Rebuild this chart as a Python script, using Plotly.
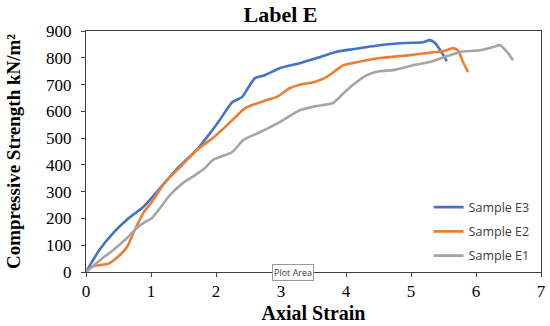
import plotly.graph_objects as go

# Sample E3 (blue)
e3_strain = [0, 0.2, 0.42, 0.65, 0.88, 1.14, 1.4, 1.7, 1.85, 2.05, 2.25, 2.4, 2.5, 2.6, 2.75, 2.98, 3.29, 3.55, 3.83, 4.1, 4.52, 4.9, 5.18, 5.29, 5.37, 5.48, 5.55]
e3_stress = [0, 80, 146, 200, 243, 313, 385, 455, 500, 565, 634, 653, 690, 724, 735, 761, 780, 799, 821, 832, 847, 855, 858, 866, 855, 817, 787]

# Sample E2 (orange)
e2_strain = [0, 0.1, 0.22, 0.35, 0.47, 0.63, 0.75, 0.88, 1.01, 1.22, 1.45, 1.7, 1.95, 2.2, 2.45, 2.78, 2.93, 3.14, 3.34, 3.5, 3.7, 3.96, 4.1, 4.52, 4.98, 5.5, 5.65, 5.73, 5.8, 5.88]
e2_stress = [0, 20, 26, 32, 52, 93, 157, 220, 261, 336, 392, 455, 500, 555, 612, 642, 653, 687, 702, 709, 728, 772, 780, 799, 810, 825, 836, 825, 784, 746]

# Sample E1 (gray)
e1_strain = [0, 0.22, 0.42, 0.63, 0.8, 0.91, 1.01, 1.14, 1.29, 1.49, 1.68, 1.83, 1.95, 2.25, 2.42, 2.65, 2.98, 3.29, 3.55, 3.8, 4.01, 4.32, 4.52, 4.72, 5.03, 5.29, 5.5, 5.75, 6.06, 6.26, 6.37, 6.48, 6.57]
e1_stress = [0, 45, 82, 127, 168, 187, 201, 239, 287, 332, 362, 388, 418, 448, 493, 519, 560, 604, 620, 631, 679, 735, 750, 754, 772, 784, 802, 821, 828, 840, 847, 821, 791]

x_ticks = [0, 1, 2, 3, 4, 5, 6, 7]
y_ticks = [0, 100, 200, 300, 400, 500, 600, 700, 800, 900]

fig = go.Figure()
fig.add_trace(go.Scatter(x=e3_strain, y=e3_stress, mode="lines", name="Sample E3", legendgroup="e3",
                         line=dict(color="#4472C4", width=2.6, shape="spline", smoothing=0.6)))
fig.add_trace(go.Scatter(x=e2_strain, y=e2_stress, mode="lines", name="Sample E2", legendgroup="e2",
                         line=dict(color="#ED7D31", width=2.6, shape="spline", smoothing=0.6)))
fig.add_trace(go.Scatter(x=e1_strain, y=e1_stress, mode="lines", name="Sample E1", legendgroup="e1",
                         line=dict(color="#A5A5A5", width=2.6, shape="spline", smoothing=0.6)))

fig.update_layout(
    width=550, height=326,
    margin=dict(l=86, r=9, t=31, b=54),
    paper_bgcolor="white", plot_bgcolor="white",
    title=dict(text="<b>Label E</b>", x=0.51, xanchor="center", y=0.98, yanchor="top",
               font=dict(family="Liberation Serif", size=22, color="black")),
    font=dict(family="Liberation Serif", color="black"),
    showlegend=True,
    legend=dict(x=0.753, y=0.33, xanchor="left", yanchor="top",
                bgcolor="rgba(0,0,0,0)", tracegroupgap=5,
                font=dict(family="Open Sans", size=12.5, color="#404040")),
    xaxis=dict(range=[0, 7], tickvals=x_ticks, showgrid=False, zeroline=False, automargin=False,
               showline=True, linecolor="#404040", linewidth=1, mirror=True,
               ticks="outside", ticklen=4, tickcolor="#404040",
               tickfont=dict(family="Liberation Serif", size=17, color="black"),
               title=dict(text="<b>Axial Strain</b>", standoff=5,
                          font=dict(family="Liberation Serif", size=20, color="black"))),
    yaxis=dict(range=[0, 900], tickvals=y_ticks, showgrid=False, zeroline=False, automargin=False,
               showline=True, linecolor="#404040", linewidth=1, mirror=True,
               ticks="outside", ticklen=4, tickcolor="#404040", ticklabelstandoff=6,
               tickfont=dict(family="Liberation Serif", size=17, color="black"),
               title=dict(text="<b>Compressive Strength kN/m²</b>", standoff=20,
                          font=dict(family="Liberation Serif", size=19, color="black"))),
)

fig.add_annotation(x=3.18, y=0, xref="x", yref="y", text="Plot Area", showarrow=False,
                   xanchor="center", yanchor="middle",
                   font=dict(family="Open Sans", size=9, color="#404040"),
                   bgcolor="white", bordercolor="#999999", borderwidth=1, borderpad=1)

fig.write_html("out.html", config={"displayModeBar": False},
               post_script="document.body.style.margin='0';document.body.style.overflow='hidden';")
